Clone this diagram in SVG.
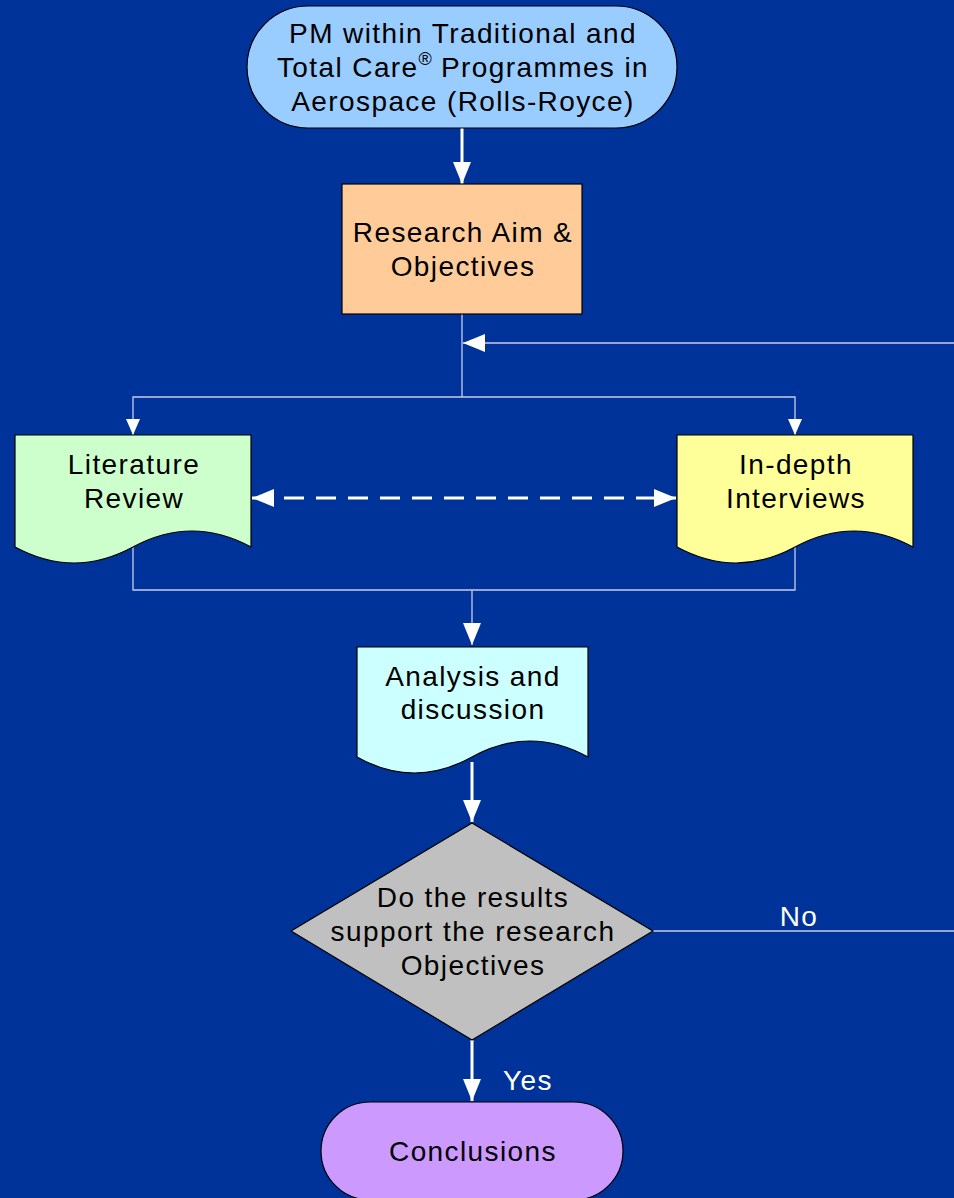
<svg xmlns="http://www.w3.org/2000/svg" width="954" height="1198" viewBox="0 0 954 1198">
<style>
.t{font-family:"Liberation Sans",Arial,sans-serif;font-size:28px;letter-spacing:1.4px;fill:#000;text-anchor:middle}
.w{font-family:"Liberation Sans",Arial,sans-serif;font-size:28px;letter-spacing:1.4px;fill:#fff;text-anchor:middle}
.n{stroke:#000;stroke-width:1.2}
.thin{fill:none;stroke:#C8CCE8;stroke-width:1.3}
.thick{fill:none;stroke:#fff;stroke-width:3}
</style>
<defs>
<marker id="ah" markerWidth="16" markerHeight="14" refX="16" refY="7" orient="auto" markerUnits="userSpaceOnUse">
<path d="M0,0 L16,7 L0,14 Z" fill="#fff"/>
</marker>
<marker id="ahL" markerWidth="22" markerHeight="18" refX="22" refY="9" orient="auto" markerUnits="userSpaceOnUse">
<path d="M0,0 L22,9 L0,18 Z" fill="#fff"/>
</marker>
<marker id="ahS" markerWidth="22" markerHeight="18" refX="0" refY="9" orient="auto" markerUnits="userSpaceOnUse">
<path d="M22,0 L0,9 L22,18 Z" fill="#fff"/>
</marker>
</defs>
<rect x="0" y="0" width="954" height="1198" fill="#003399"/>

<g id="connectors">
<line class="thick" x1="462" y1="128" x2="462" y2="184" marker-end="url(#ahL)"/>
<polyline class="thin" points="462,314 462,397"/>
<polyline class="thin" points="462,397 133,397 133,435" marker-end="url(#ah)"/>
<polyline class="thin" points="462,397 795,397 795,435" marker-end="url(#ah)"/>
<line class="thin" x1="954" y1="343" x2="463" y2="343" marker-end="url(#ahL)"/>
<line x1="252" y1="498" x2="676" y2="498" stroke="#fff" stroke-width="3" stroke-dasharray="20 12" marker-start="url(#ahS)" marker-end="url(#ahL)"/>
<polyline class="thin" points="133,547 133,590 795,590 795,547"/>
<line class="thin" x1="472" y1="590" x2="472" y2="645" marker-end="url(#ahL)"/>
<line class="thick" x1="472" y1="762" x2="472" y2="822" marker-end="url(#ahL)"/>
<line class="thin" x1="653" y1="931" x2="954" y2="931"/>
<text class="w" x="799" y="926">No</text>
<line class="thick" x1="472" y1="1040" x2="472" y2="1101" marker-end="url(#ahL)"/>
<text class="w" x="528" y="1090">Yes</text>
</g>

<g id="start">
<rect class="n" x="247" y="6" width="430" height="122" rx="61" ry="61" fill="#99CCFF"/>
<text class="t" x="463" y="43">PM within Traditional and</text>
<text class="t" x="463" y="77">Total Care<tspan font-size="18" dy="-12" letter-spacing="0">®</tspan><tspan dy="12"> Programmes in</tspan></text>
<text class="t" x="463" y="111">Aerospace (Rolls-Royce)</text>
</g>

<g id="aim">
<rect class="n" x="342" y="184" width="240" height="130" fill="#FFCC99"/>
<text class="t" x="463" y="242">Research Aim &amp;</text>
<text class="t" x="463" y="276">Objectives</text>
</g>

<g id="literature">
<path class="n" d="M15,435 H251 V547 Q192,515 133,547 Q74,579 15,547 Z" fill="#CCFFCC"/>
<text class="t" x="134" y="474">Literature</text>
<text class="t" x="134" y="508">Review</text>
</g>

<g id="interviews">
<path class="n" d="M677,435 H913 V547 Q854,515 795,547 Q736,579 677,547 Z" fill="#FFFF99"/>
<text class="t" x="796" y="474">In-depth</text>
<text class="t" x="796" y="508">Interviews</text>
</g>

<g id="analysis">
<path class="n" d="M357,647 H588 V757 Q530,725 472,757 Q414,789 357,757 Z" fill="#CCFFFF"/>
<text class="t" x="473" y="686">Analysis and</text>
<text class="t" x="473" y="719">discussion</text>
</g>

<g id="decision">
<polygon class="n" points="472,823 653,931 472,1040 291,931" fill="#C0C0C0"/>
<text class="t" x="473" y="907">Do the results</text>
<text class="t" x="473" y="941">support the research</text>
<text class="t" x="473" y="975">Objectives</text>
</g>

<g id="conclusions">
<rect class="n" x="321" y="1102" width="302" height="98" rx="49" ry="49" fill="#CC99FF"/>
<text class="t" x="473" y="1161">Conclusions</text>
</g>
</svg>
